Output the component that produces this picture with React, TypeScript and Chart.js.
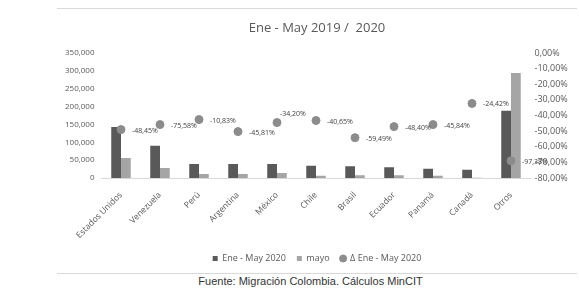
import React, { useEffect, useRef } from "react";
import { Chart, registerables } from "chart.js";

Chart.register(...registerables);

const categories = [
  "Estados Unidos",
  "Venezuela",
  "Perú",
  "Argentina",
  "México",
  "Chile",
  "Brasil",
  "Ecuador",
  "Panamá",
  "Canadá",
  "Otros",
];
const eneMay2020 = [143000, 90000, 39000, 39000, 39000, 34000, 33000, 30000, 26000, 23000, 188000];
const mayo = [56000, 28000, 11000, 11000, 14000, 6000, 8000, 8000, 6000, 1000, 294000];
const deltaEneMay = [-49.0, -45.8, -42.6, -50.3, -44.5, -43.2, -54.2, -47.1, -45.8, -32.3, -69.0];
const deltaLabels = [
  "-48,45%",
  "-75,58%",
  "-10,83%",
  "-45,81%",
  "-34,20%",
  "-40,65%",
  "-59,49%",
  "-48,40%",
  "-45,84%",
  "-24,42%",
  "-97,38%",
];
const seriesNames = ["Ene - May 2020", "mayo", "Δ Ene - May 2020"];
const titleText = "Ene - May 2019 /  2020";
const sourceText = "Fuente: Migración Colombia. Cálculos MinCIT";

const FONT = '"Open Sans", "Noto Sans", sans-serif';

const pointLabelPlugin = {
  id: "pointLabels",
  afterDatasetsDraw(chart: any) {
    const meta = chart.getDatasetMeta(2);
    const ctx = chart.ctx;
    ctx.save();
    ctx.font = `7px ${FONT}`;
    ctx.fillStyle = "#404040";
    ctx.textBaseline = "middle";
    ctx.textAlign = "left";
    meta.data.forEach((pt: any, i: number) => {
      if (i === 4) {
        ctx.fillText(deltaLabels[i], pt.x + 3, pt.y - 9);
      } else {
        ctx.fillText(deltaLabels[i], pt.x + 11, pt.y + 1);
      }
    });
    ctx.restore();
  },
};

export default function App() {
  const ref = useRef<HTMLCanvasElement | null>(null);

  useEffect(() => {
    if (!ref.current) return;
    const chart = new Chart(ref.current, {
      type: "bar",
      data: {
        labels: categories,
        datasets: [
          {
            type: "bar",
            label: seriesNames[0],
            data: eneMay2020,
            backgroundColor: "#595959",
            yAxisID: "y",
            order: 2,
            pointStyle: "rect",
            categoryPercentage: 0.5,
            barPercentage: 1,
          } as any,
          {
            type: "bar",
            label: seriesNames[1],
            data: mayo,
            backgroundColor: "#a5a5a5",
            yAxisID: "y",
            order: 2,
            pointStyle: "rect",
            categoryPercentage: 0.5,
            barPercentage: 1,
          } as any,
          {
            type: "line",
            label: seriesNames[2],
            data: deltaEneMay,
            yAxisID: "y1",
            showLine: false,
            pointRadius: 4,
            pointBackgroundColor: "#8c8c8c",
            pointBorderColor: "#8c8c8c",
            backgroundColor: "#8c8c8c",
            borderColor: "#8c8c8c",
            pointStyle: "circle",
            order: 0,
          } as any,
        ],
      },
      options: {
        animation: false,
        responsive: false,
        maintainAspectRatio: false,
        layout: { padding: { top: 0, left: 0, right: 0, bottom: 0 } },
        plugins: {
          title: {
            display: true,
            text: titleText,
            color: "#595959",
            font: { family: FONT, size: 13, weight: "normal" },
            padding: { top: 12.8, bottom: 16.6 },
          },
          legend: {
            display: true,
            position: "bottom",
            labels: {
              usePointStyle: true,
              boxWidth: 5,
              boxHeight: 5,
              padding: 11,
              color: "#595959",
              font: { family: FONT, size: 9 },
              sort: (a: any, b: any) => a.datasetIndex - b.datasetIndex,
            },
          },
          tooltip: { enabled: false },
        },
        scales: {
          x: {
            grid: { display: false },
            border: { display: true, color: "#d9d9d9", width: 1 },
            ticks: {
              color: "#595959",
              font: { family: FONT, size: 8.5 },
              minRotation: 45,
              maxRotation: 45,
              padding: 4,
              autoSkip: false,
            },
            afterFit: (scale: any) => {
              scale.height = 65;
            },
          },
          y: {
            position: "left",
            min: 0,
            max: 350000,
            grid: { display: false, drawTicks: false },
            border: { display: false },
            ticks: {
              stepSize: 50000,
              color: "#595959",
              font: { family: FONT, size: 8 },
              padding: 7,
              callback: (v: any) => Number(v).toLocaleString("en-US"),
            },
            afterFit: (scale: any) => {
              scale.width = 44.5;
            },
          },
          y1: {
            position: "right",
            min: -80,
            max: 0,
            grid: { display: false, drawTicks: false },
            border: { display: false },
            ticks: {
              stepSize: 10,
              color: "#595959",
              font: { family: FONT, size: 9 },
              padding: 4,
              callback: (v: any) => `${Number(v).toFixed(2).replace(".", ",")}%`,
            },
            afterFit: (scale: any) => {
              scale.width = 46.5;
            },
          },
        },
      } as any,
      plugins: [pointLabelPlugin],
    });
    return () => chart.destroy();
  }, []);

  return (
    <div style={{ position: "absolute", left: 0, top: 0, width: 579, height: 291, background: "#fff", overflow: "hidden" }}>
      <div style={{ position: "absolute", left: 57, top: 8, width: 520, height: 0, borderTop: "1px solid #d9d9d9" }} />
      <div style={{ position: "absolute", left: 57, top: 273, width: 520, height: 0, borderTop: "1px solid #d9d9d9" }} />
      <canvas
        ref={ref}
        width={520}
        height={265}
        style={{ position: "absolute", left: 57, top: 8, width: 520, height: 265 }}
      />
      <div
        style={{
          position: "absolute",
          left: 0,
          width: 621,
          top: 275,
          textAlign: "center",
          fontFamily: '"Liberation Sans", Arial, sans-serif',
          fontSize: 11,
          color: "#333",
          whiteSpace: "nowrap",
        }}
      >
        {sourceText}
      </div>
    </div>
  );
}
